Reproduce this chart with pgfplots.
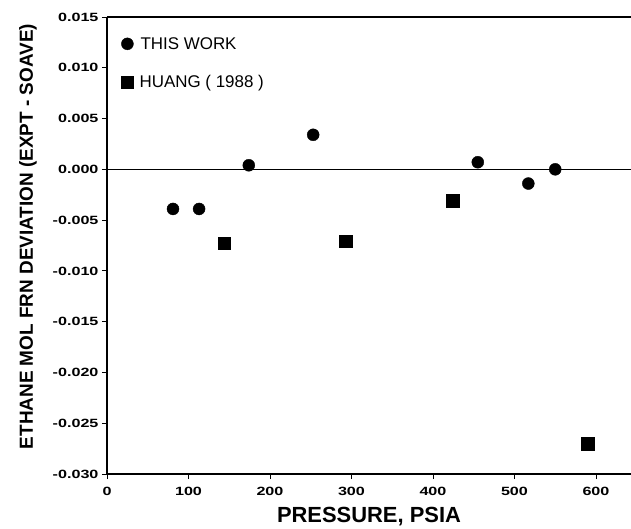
\documentclass[border=0pt]{standalone}
\usepackage{fontspec}
\setmainfont{Liberation Sans}
\newfontfamily\tickfont[FakeStretch=1.35]{Liberation Sans Bold}
\usepackage{pgfplots}
\pgfplotsset{compat=1.18}
\begin{document}
\begin{tikzpicture}
\begin{axis}[
  scale only axis, width=524bp, height=457bp,
  xmin=0, xmax=643, ymin=-0.030, ymax=0.015,
  axis x line*=bottom, axis y line*=left,
  axis line style={-, line width=1.8bp, black},
  xtick={0,100,...,600},
  ytick={-0.030,-0.025,-0.020,-0.015,-0.010,-0.005,0,0.005,0.010,0.015},
  tick align=outside, major tick length=5bp,
  tick style={line width=0.8bp, black},
  minor tick num=0,
  scaled y ticks=false,
  /pgf/number format/assume math mode=true,
  yticklabel style={font=\tickfont\fontsize{12}{12}\selectfont, /pgf/number format/.cd, fixed, fixed zerofill, precision=3},
  xticklabel style={font=\tickfont\fontsize{12}{12}\selectfont, yshift=-5bp},
  xlabel={PRESSURE, PSIA},
  ylabel={ETHANE MOL FRN DEVIATION (EXPT - SOAVE)},
  xlabel style={font=\bfseries\fontsize{22}{22}\selectfont, yshift=-4bp},
  ylabel style={font=\bfseries\fontsize{19}{19}\selectfont, yshift=9bp, xshift=9bp},
  legend style={draw=none, fill=none, at={(0,1)}, anchor=north west, xshift=11bp, yshift=-16bp,
    font=\fontsize{17}{17}\selectfont, row sep=21bp},
  legend cell align=left,
  clip=false,
]
\addplot[only marks, mark=*, mark size=6bp, black] coordinates {
 (81,-0.0039) (113,-0.0039) (174,0.0004) (253,0.0034) (455,0.0007) (517,-0.0014) (550,0.0)
};
\addlegendentry{\hspace{5bp}THIS WORK}
\addplot[only marks, mark=square*, mark size=6.2bp, black] coordinates {
 (144,-0.0073) (293,-0.0071) (424,-0.0031) (590,-0.0270)
};
\addlegendentry{\hspace{4bp}HUANG ( 1988 )}
\draw[line width=0.6bp] (axis cs:0,0) -- (axis cs:643,0);
\draw[line width=1.8bp] (rel axis cs:0,1) -- (rel axis cs:1,1);
\coordinate (bl) at (rel axis cs:0,0);
\coordinate (tr) at (rel axis cs:1,1);
\end{axis}
\pgfresetboundingbox
\path[use as bounding box] ([xshift=-107bp,yshift=-55bp]bl) rectangle ([yshift=17bp]tr);
\end{tikzpicture}
\end{document}
